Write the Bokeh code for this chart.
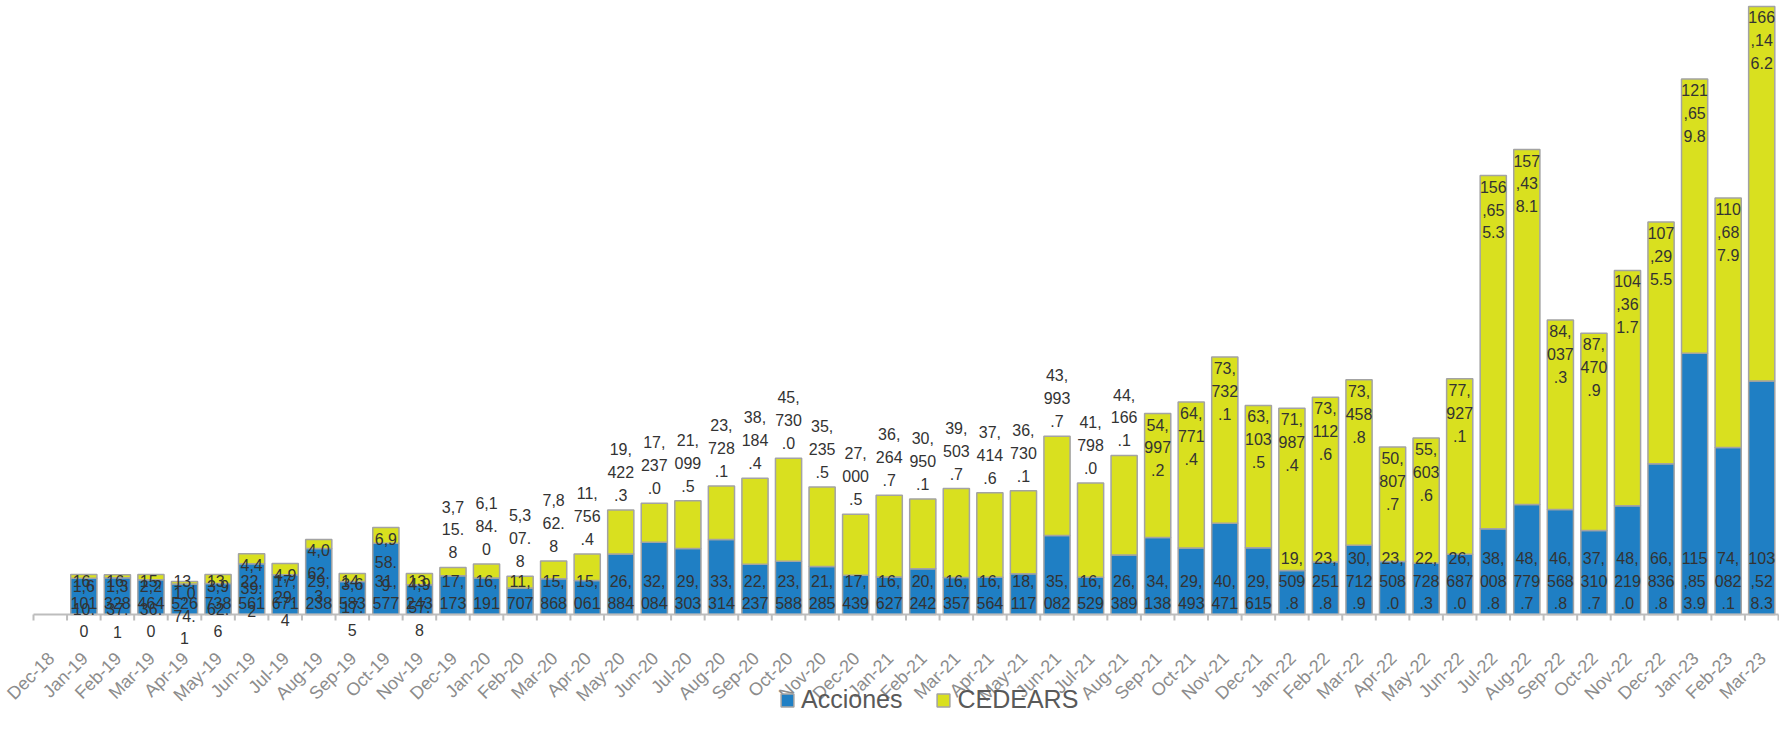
import math
import numpy as np
from bokeh.plotting import figure
from bokeh.models import ColumnDataSource, Range1d
from bokeh.core.properties import value
from bokeh.embed import file_html
from bokeh.resources import INLINE

# ---------------- data ----------------
axis_labels = ["Dec-18",
               "Jan-19", "Feb-19", "Mar-19", "Apr-19", "May-19", "Jun-19", "Jul-19", "Aug-19", "Sep-19", "Oct-19", "Nov-19", "Dec-19",
               "Jan-20", "Feb-20", "Mar-20", "Apr-20", "May-20", "Jun-20", "Jul-20", "Aug-20", "Sep-20", "Oct-20", "Nov-20", "Dec-20",
               "Jan-21", "Feb-21", "Mar-21", "Apr-21", "May-21", "Jun-21", "Jul-21", "Aug-21", "Sep-21", "Oct-21", "Nov-21", "Dec-21",
               "Jan-22", "Feb-22", "Mar-22", "Apr-22", "May-22", "Jun-22", "Jul-22", "Aug-22", "Sep-22", "Oct-22", "Nov-22", "Dec-22",
               "Jan-23", "Feb-23", "Mar-23"]
months = axis_labels[1:]   # Dec-18 has no bar

acciones = [16101, 16328, 15464, 13526, 13738, 22561, 17671, 29238, 14583, 31577, 13243, 17173,
            16191, 11707, 15868, 15061, 26884, 32084, 29303, 33314, 22237, 23588, 21285, 17439,
            16627, 20242, 16357, 16564, 18117, 35082, 16529, 26389, 34138, 29493, 40471, 29615,
            19509.8, 23251.8, 30712.9, 23508.0, 22728.3, 26687.0, 38008.8, 48779.7, 46568.8, 37310.7, 48219.0, 66836.8,
            115853.9, 74082.1, 103528.3]

cedears = [1610.0, 1337.1, 2236.0, 1074.1, 3962.6, 4439.2, 4929.4, 4062.3, 3617.5, 6958.9, 4957.8, 3715.8,
           6184.0, 5307.8, 7862.8, 11756.4, 19422.3, 17237.0, 21099.5, 23728.1, 38184.4, 45730.0, 35235.5, 27000.5,
           36264.7, 30950.1, 39503.7, 37414.6, 36730.1, 43993.7, 41798.0, 44166.1, 54997.2, 64771.4, 73732.1, 63103.5,
           71987.4, 73112.6, 73458.8, 50807.7, 55603.6, 77927.1, 156655.3, 157438.1, 84037.3, 87470.9, 104361.7, 107295.5,
           121659.8, 110687.9, 166146.2]

series_names = ["Acciones", "CEDEARS"]
series_colors = ["#1f7fc4", "#d9e01f"]

# ---------------- layout constants ----------------
WIDTH, HEIGHT = 1779, 735
AXIS_LEFT_PX, AXIS_RIGHT_PX = 33, 1778   # page columns where the category axis starts / ends
TOP_PX = 3
BASELINE_PX = 614                 # page row of the value axis zero
PLOT_PX = BASELINE_PX - TOP_PX
BELOW_PX = HEIGHT - BASELINE_PX
Y_MAX = 271000
Y_MIN = -Y_MAX * BELOW_PX / PLOT_PX
FONT = "Liberation Sans"
AXIS_GREY = "#bdbdbd"


def wrap(s, n=3):
    return "\n".join(s[i:i + n] for i in range(0, len(s), n))


n_slots = len(axis_labels)
slot_px = (AXIS_RIGHT_PX - AXIS_LEFT_PX) / n_slots
X_MIN = -AXIS_LEFT_PX / slot_px
X_MAX = n_slots + (WIDTH - AXIS_RIGHT_PX) / slot_px

centers = [i + 0.5 for i in range(n_slots)]
bounds = list(range(n_slots + 1))
xs = [axis_labels.index(m) + 0.5 for m in months]
totals = [a + c for a, c in zip(acciones, cedears)]

dec_start = months.index("Jan-22")
acc_txt = [wrap(f"{v:,.1f}" if i >= dec_start else f"{v:,.0f}") for i, v in enumerate(acciones)]
ced_txt = [wrap(f"{v:,.1f}") for v in cedears]

px_per_unit = PLOT_PX / Y_MAX
first_above = months.index("Dec-19")
inside, above = [], []
for i, c in enumerate(cedears):
    if i < first_above or c * px_per_unit >= 110:
        inside.append(i)
    else:
        above.append(i)

src = ColumnDataSource(dict(x=xs, acc=acciones, ced=cedears))
acc_src = ColumnDataSource(dict(x=xs, t=acc_txt))
in_src = ColumnDataSource(dict(x=[xs[i] for i in inside], y=[totals[i] for i in inside],
                               t=[ced_txt[i] for i in inside]))
ab_src = ColumnDataSource(dict(x=[xs[i] for i in above], y=[totals[i] for i in above],
                               t=[ced_txt[i] for i in above]))

p = figure(width=WIDTH, height=HEIGHT,
           x_range=Range1d(X_MIN, X_MAX), y_range=Range1d(Y_MIN, Y_MAX),
           output_backend="svg", toolbar_location=None,
           x_axis_location=None, y_axis_location=None,
           min_border_left=0, min_border_right=0, min_border_top=TOP_PX, min_border_bottom=0,
           outline_line_color=None, background_fill_color="white", border_fill_color="white")
p.grid.visible = False

rs = p.vbar_stack(["acc", "ced"], x="x", width=0.78, source=src,
                  fill_color=series_colors, line_color="#a3a3a3", line_width=1.5,
                  legend_label=series_names)

# category axis drawn at value zero: line, boundary ticks, rotated labels
tick_len = 6 / px_per_unit
p.segment(x0=[0], y0=[0], x1=[n_slots], y1=[0], line_color=AXIS_GREY, line_width=2)
p.segment(x0=bounds, y0=0, x1=bounds, y1=-tick_len, line_color=AXIS_GREY, line_width=2)
p.text(x=centers, y=0, text=axis_labels, angle=math.pi / 4,
       text_align="right", text_baseline="middle", x_offset=1, y_offset=41,
       text_font=value(FONT), text_font_size="18px", text_color="#8c8c8c")

# data labels
common = dict(text_align="center", text_font=value(FONT), text_font_size="16px",
              text_color="#333333", text_line_height=1.35)
p.text(x="x", y=0, text="t", source=acc_src, text_baseline="bottom", y_offset=-2, **common)
p.text(x="x", y="y", text="t", source=in_src, text_baseline="top", y_offset=3, **common)
p.text(x="x", y="y", text="t", source=ab_src, text_baseline="bottom", y_offset=-6, **common)

lg = p.legend[0]
lg.orientation = "horizontal"
lg.location = (779, 21)
lg.border_line_color = None
lg.background_fill_alpha = 0
lg.padding = 0
lg.margin = 0
lg.spacing = 33
lg.glyph_width = 16
lg.glyph_height = 16
lg.label_standoff = 6
lg.label_height = 18
lg.label_text_font = FONT
lg.label_text_font_size = "25px"
lg.label_text_color = "#595959"

open("out.html", "w").write(file_html(p, INLINE))
